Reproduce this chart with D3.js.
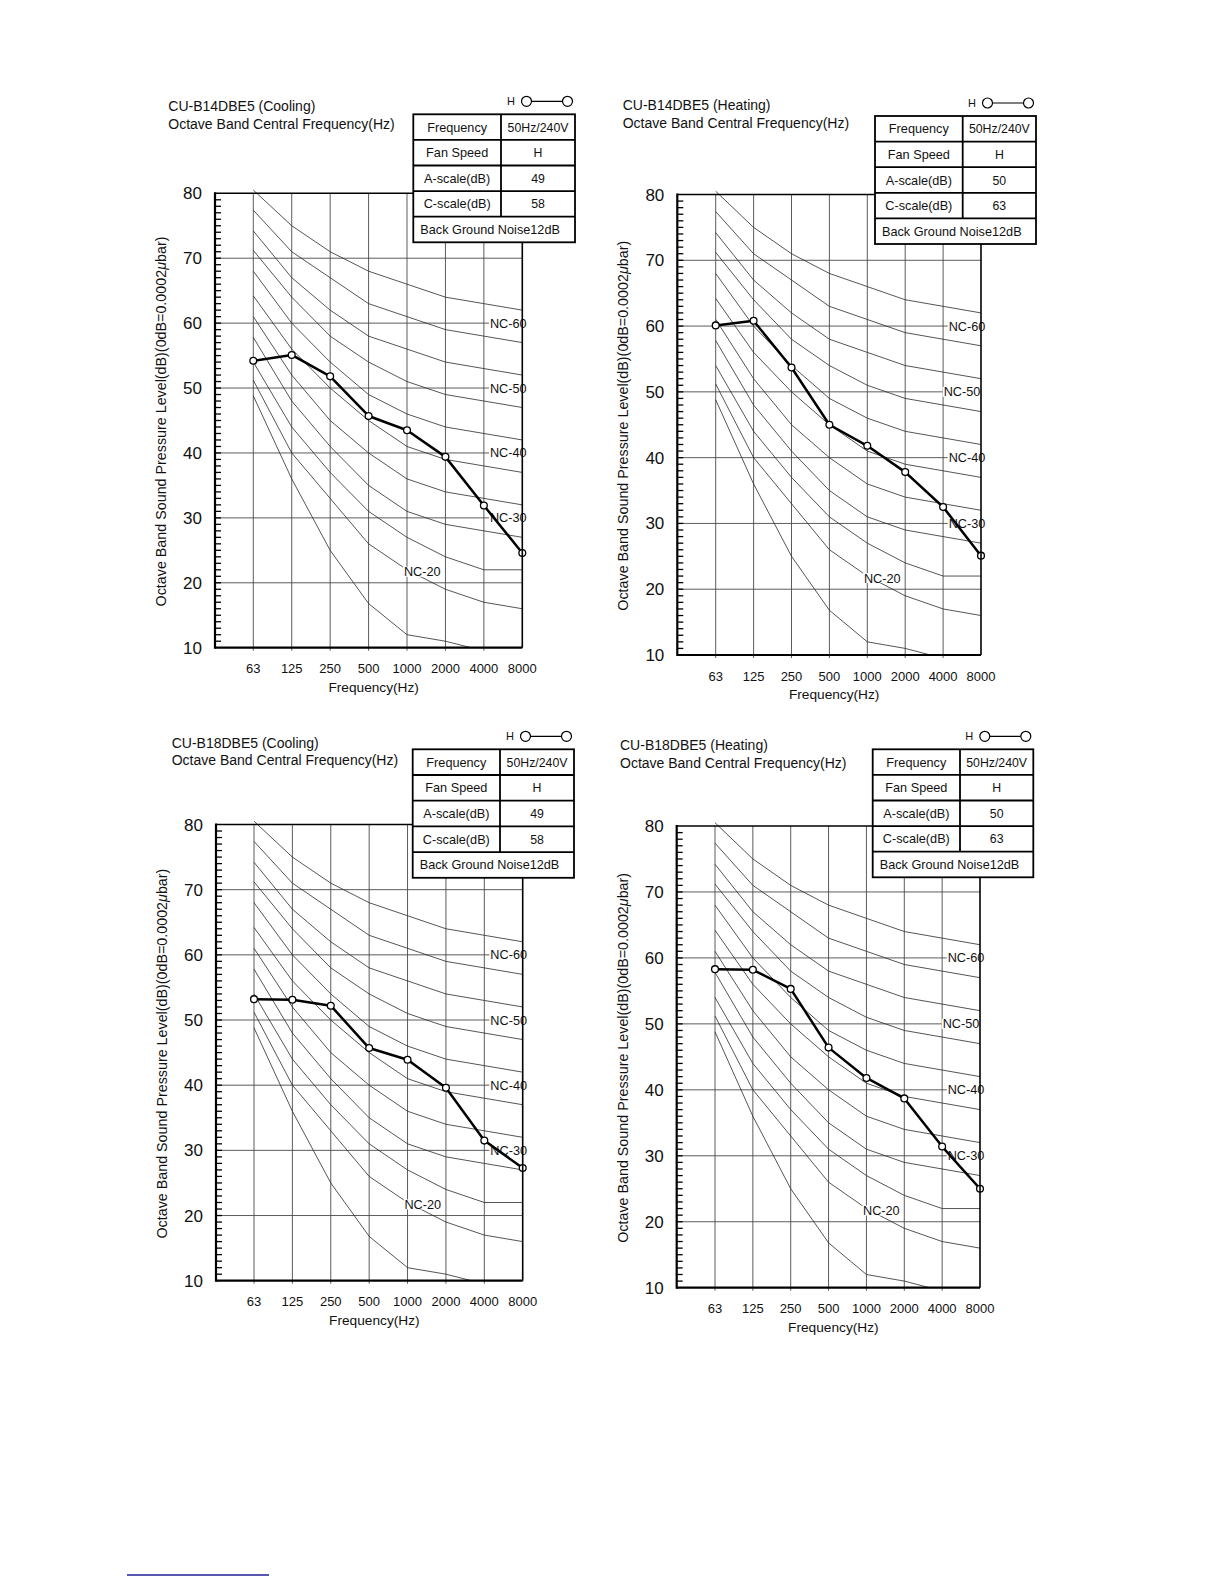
<!DOCTYPE html>
<html><head><meta charset="utf-8">
<script src="https://cdn.jsdelivr.net/npm/d3@7"></script>
<style>
body{margin:0;background:#fff}
svg{display:block}
text{font-family:"Liberation Sans",Arial,Helvetica,sans-serif;fill:#111}
</style>
</head><body>
<svg id="c" width="1224" height="1584"></svg>
<script>
// ---------- data ----------
const freqs = ["63","125","250","500","1000","2000","4000","8000"];
const yTickValues = [10,20,30,40,50,60,70,80];

// NC reference curves (dB at 63..8000 Hz)
const nc65 = [80.5, 75, 71, 68, 66, 64, 63, 62];
const nc60 = [77.4, 71, 67, 63, 61, 59, 58, 57];
const nc55 = [74.2, 67, 62, 58, 56, 54, 53, 52];
const nc50 = [71.2, 64, 58, 54, 51, 49, 48, 47];
const nc45 = [68, 60, 54, 49, 46, 44, 43, 42];
const nc40 = [64.2, 56, 50, 45, 41, 39, 38, 37];
const nc35 = [61, 52, 45, 40, 36, 34, 33, 32];
const nc30 = [57.8, 48, 41, 35, 31, 29, 28, 27];
const nc25 = [54, 44, 37, 31, 27, 24, 22, 22];
const nc20 = [51.2, 40, 33, 26, 22, 19, 17, 16];
const ncLow = [48.8, 36, 25, 16.8, 12, 11, 9.5, null];
const ncCurves = [nc65, nc60, nc55, nc50, nc45, nc40, nc35, nc30, nc25, nc20, ncLow];
const ncLabels = ["NC-60","NC-50","NC-40","NC-30"];
const ncLabelValues = [60, 50, 40, 30];

// measured spectra
const b14Cooling = [54.2, 55.1, 51.8, 45.7, 43.5, 39.4, 31.9, 24.6];
const b14Heating = [60.1, 60.8, 53.7, 45.0, 41.8, 37.8, 32.5, 25.1];
const b18Cooling = [53.2, 53.1, 52.2, 45.7, 43.9, 39.6, 31.5, 27.3];
const b18Heating = [58.3, 58.2, 55.3, 46.4, 41.8, 38.7, 31.4, 25.0];

const titles = ["CU-B14DBE5 (Cooling)","CU-B14DBE5 (Heating)","CU-B18DBE5 (Cooling)","CU-B18DBE5 (Heating)"];
const aScales = ["49","50","49","50"];
const cScales = ["58","63","58","63"];
const tableLabels = ["Frequency","Fan Speed","A-scale(dB)","C-scale(dB)"];
const frequencyValue = "50Hz/240V";
const fanSpeedValue = "H";
const noiseText = "Back Ground Noise12dB";

// ---------- layout ----------
const layouts = [
  {left:215, x63:253.3, right:522.3, top:193.3, bottom:647.7, tx:168.3, ty:106, tabX:413.3, tabY:114.3, tabW:161.7, split:87.7, rowH:25.6, nc50dx:0},
  {left:677.3, x63:715.7, right:981, top:194.5, bottom:655, tx:622.7, ty:105, tabX:875, tabY:116, tabW:161, split:87.7, rowH:25.6, nc50dx:-5},
  {left:216, x63:254, right:522.7, top:824.5, bottom:1280.7, tx:171.7, ty:742.7, tabX:412.7, tabY:749.3, tabW:161.3, split:87.3, rowH:25.7, nc50dx:0},
  {left:676.7, x63:715, right:980, top:826, bottom:1287.7, tx:620, ty:745, tabX:872.7, tabY:749.3, tabW:160.6, split:87.3, rowH:25.6, nc50dx:-5}
];
const seriesList = [b14Cooling, b14Heating, b18Cooling, b18Heating];

const svg = d3.select("#c");
svg.append("rect").attr("width",1224).attr("height",1584).attr("fill","#fff");

layouts.forEach((L, i) => {
  const g = svg.append("g");
  const x = d3.scalePoint().domain(freqs).range([L.x63, L.right]);
  const y = d3.scaleLinear().domain([10, 80]).range([L.bottom, L.top]);
  const clipId = "clip" + i;
  g.append("clipPath").attr("id", clipId).append("rect")
    .attr("x", L.left).attr("y", L.top - 6).attr("width", L.right - L.left).attr("height", L.bottom - L.top + 6);

  // horizontal grid
  g.selectAll(".hg").data(yTickValues.filter(v => v > 10 && v < 80)).join("line")
    .attr("x1", L.left).attr("x2", L.right).attr("y1", d => y(d)).attr("y2", d => y(d))
    .attr("stroke", "#4a4a4a").attr("stroke-width", 0.9);
  // vertical grid
  g.selectAll(".vg").data(freqs.slice(0, 7)).join("line")
    .attr("x1", d => x(d)).attr("x2", d => x(d)).attr("y1", L.top).attr("y2", L.bottom + 3)
    .attr("stroke", "#4a4a4a").attr("stroke-width", 0.9);

  // NC curves
  const line = d3.line().defined(d => d[1] !== null).x(d => x(d[0])).y(d => y(d[1]));
  g.append("g").attr("clip-path", `url(#${clipId})`).selectAll("path").data(ncCurves).join("path")
    .attr("d", c => line(freqs.map((f, k) => [f, c[k]])))
    .attr("fill", "none").attr("stroke", "#2a2a2a").attr("stroke-width", 0.8);

  // NC labels
  const labG = g.append("g");
  const labData = ncLabels.map((t, k) => ({t, x: x("8000") - 14 + (t === "NC-50" ? L.nc50dx : 0), y: y(ncLabelValues[k])}));
  labData.push({t: "NC-20", x: (x("1000") + x("2000")) / 2 - 4, y: y(21.7)});
  labData.forEach(d => {
    const bg = labG.append("rect").attr("fill", "#fff");
    const t = labG.append("text").attr("x", d.x).attr("y", d.y + 4.5).attr("text-anchor", "middle")
      .attr("font-size", 12.7).text(d.t);
    const bb = t.node().getBBox();
    bg.attr("x", bb.x - 1).attr("y", d.y - 5).attr("width", bb.width + 2).attr("height", 10);
  });

  // data line
  const pts = freqs.map((f, k) => [f, seriesList[i][k]]);
  g.append("path").attr("d", line(pts)).attr("fill", "none").attr("stroke", "#000")
    .attr("stroke-width", 2.5).attr("stroke-linejoin", "round");
  g.selectAll(".pt").data(pts).join("circle")
    .attr("cx", d => x(d[0])).attr("cy", d => y(d[1])).attr("r", 3.4)
    .attr("fill", "#fff").attr("stroke", "#000").attr("stroke-width", 1.3);

  // frame
  g.append("line").attr("x1", L.left).attr("x2", L.right).attr("y1", L.top).attr("y2", L.top).attr("stroke", "#000").attr("stroke-width", 1.6);
  g.append("line").attr("x1", L.right).attr("x2", L.right).attr("y1", L.top).attr("y2", L.bottom).attr("stroke", "#000").attr("stroke-width", 1.6);
  g.append("line").attr("x1", L.left).attr("x2", L.left).attr("y1", L.top - 1).attr("y2", L.bottom + 1).attr("stroke", "#000").attr("stroke-width", 2.2);
  g.append("line").attr("x1", L.left).attr("x2", L.right).attr("y1", L.bottom).attr("y2", L.bottom).attr("stroke", "#000").attr("stroke-width", 2.2);

  // minor ticks on y axis (every 1 dB)
  g.selectAll(".mt").data(d3.range(11, 80)).join("line")
    .attr("x1", L.left).attr("x2", L.left + 6).attr("y1", d => y(d)).attr("y2", d => y(d))
    .attr("stroke", "#000").attr("stroke-width", 1.3);

  // y tick labels
  g.selectAll(".yl").data(yTickValues).join("text")
    .attr("x", L.left - 13).attr("y", d => y(d) + 6).attr("text-anchor", "end")
    .attr("font-size", 17).text(d => d);
  // x tick labels
  g.selectAll(".xl").data(freqs).join("text")
    .attr("x", d => x(d)).attr("y", L.bottom + 21 + 4.5).attr("text-anchor", "middle")
    .attr("font-size", 13).text(d => d);
  g.append("text").attr("x", (L.left + L.right) / 2 + 5).attr("y", L.bottom + 39 + 5)
    .attr("text-anchor", "middle").attr("font-size", 13.7).text("Frequency(Hz)");

  // y axis title
  const yt = g.append("text").attr("transform", `translate(${L.left - 54},${(L.top + L.bottom) / 2 + 1}) rotate(-90)`)
    .attr("text-anchor", "middle").attr("dominant-baseline", "central").attr("font-size", 14.3);
  yt.append("tspan").text("Octave Band Sound Pressure Level(dB)(0dB=0.0002");
  yt.append("tspan").attr("font-style", "italic").text("μ");
  yt.append("tspan").text("bar)");

  // titles
  g.append("text").attr("x", L.tx).attr("y", L.ty + 5).attr("font-size", 14).text(titles[i]);
  g.append("text").attr("x", L.tx).attr("y", L.ty + 17.5 + 5).attr("font-size", 14).text("Octave Band Central Frequency(Hz)");

  // table
  const tg = g.append("g");
  const rowsVals = [frequencyValue, fanSpeedValue, aScales[i], cScales[i]];
  tg.append("rect").attr("x", L.tabX).attr("y", L.tabY).attr("width", L.tabW).attr("height", L.rowH * 5)
    .attr("fill", "#fff").attr("stroke", "#000").attr("stroke-width", 1.8);
  d3.range(1, 5).forEach(r => {
    tg.append("line").attr("x1", L.tabX).attr("x2", L.tabX + L.tabW)
      .attr("y1", L.tabY + r * L.rowH).attr("y2", L.tabY + r * L.rowH).attr("stroke", "#000").attr("stroke-width", 1.8);
  });
  tg.append("line").attr("x1", L.tabX + L.split).attr("x2", L.tabX + L.split)
    .attr("y1", L.tabY).attr("y2", L.tabY + 4 * L.rowH).attr("stroke", "#000").attr("stroke-width", 1.8);
  tableLabels.forEach((t, r) => {
    tg.append("text").attr("x", L.tabX + L.split / 2).attr("y", L.tabY + (r + 0.5) * L.rowH + 4.5)
      .attr("text-anchor", "middle").attr("font-size", 12.7).text(t);
    tg.append("text").attr("x", L.tabX + L.split + (L.tabW - L.split) / 2).attr("y", L.tabY + (r + 0.5) * L.rowH + 4.5)
      .attr("text-anchor", "middle").attr("font-size", 12.3).text(rowsVals[r]);
  });
  tg.append("text").attr("x", L.tabX + 7).attr("y", L.tabY + 4.5 * L.rowH + 4.5)
    .attr("font-size", 12.7).text(noiseText);

  // legend H o—o
  const tr = L.tabX + L.tabW;
  const ly = L.tabY - 13;
  g.append("text").attr("x", tr - 64).attr("y", ly + 4).attr("text-anchor", "middle").attr("font-size", 11).text("H");
  g.append("line").attr("x1", tr - 48.5).attr("x2", tr - 7.5).attr("y1", ly).attr("y2", ly).attr("stroke", "#000").attr("stroke-width", 1.2);
  [tr - 48.5, tr - 7.5].forEach(cx => {
    g.append("circle").attr("cx", cx).attr("cy", ly).attr("r", 5).attr("fill", "#fff").attr("stroke", "#000").attr("stroke-width", 1.2);
  });
});

// footer rule
svg.append("line").attr("x1", 127).attr("x2", 269).attr("y1", 1575).attr("y2", 1575)
  .attr("stroke", "#1f1f99").attr("stroke-width", 1.3);
</script>
</body></html>
